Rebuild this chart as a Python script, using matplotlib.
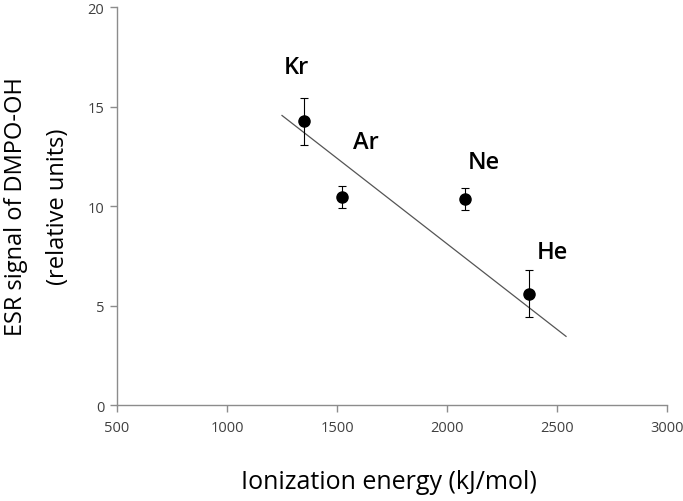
import matplotlib
matplotlib.use("Agg")
import matplotlib.pyplot as plt

# Data
elements = ["Kr", "Ar", "Ne", "He"]
ionization = [1351, 1521, 2081, 2372]
signal = [14.25, 10.45, 10.35, 5.6]
errors = [1.2, 0.55, 0.55, 1.2]
trend_x = [1250, 2541]
trend_y = [14.55, 3.45]
label_x = [1314, 1630, 2166, 2477]
label_y = [16.7, 12.9, 11.9, 7.4]
x_ticks = [500, 1000, 1500, 2000, 2500, 3000]
y_ticks = [0, 5, 10, 15, 20]

plt.rcParams['font.family'] = ['Open Sans', 'DejaVu Sans']

fig = plt.figure(figsize=(6.83, 5.02), dpi=100)
ax = fig.add_axes([0.1713, 0.1912, 0.8053, 0.7928])

ax.plot(trend_x, trend_y, color="#555555", lw=0.9, zorder=2)
ax.errorbar(ionization, signal, yerr=errors, fmt="o", color="black",
            ms=8, ecolor="black", elinewidth=0.8, capsize=3, capthick=0.8, zorder=3)
for name, lx, ly in zip(elements, label_x, label_y):
    ax.text(lx, ly, name, fontsize=17, fontweight="semibold", ha="center", va="baseline")

ax.set_xlim(500, 3000)
ax.set_ylim(0, 20)
ax.set_xticks(x_ticks)
ax.set_yticks(y_ticks)
for s in ["top", "right"]:
    ax.spines[s].set_visible(False)
for s in ["left", "bottom"]:
    ax.spines[s].set_color("#8c8c8c")
    ax.spines[s].set_linewidth(1.0)
ax.tick_params(axis="both", colors="#8c8c8c", labelcolor="#404040", labelsize=10.5, length=5, width=1.0)
ax.tick_params(axis="x", pad=6)
ax.tick_params(axis="y", pad=4)

ax.set_xlabel("Ionization energy (kJ/mol)", fontsize=18)
ax.xaxis.set_label_coords(0.4945, -0.162)
ax.set_ylabel("ESR signal of DMPO-OH\n(relative units)", fontsize=17, linespacing=2.0)
ax.yaxis.set_label_coords(-0.085, 0.5)

fig.savefig("out.png", dpi=100)
